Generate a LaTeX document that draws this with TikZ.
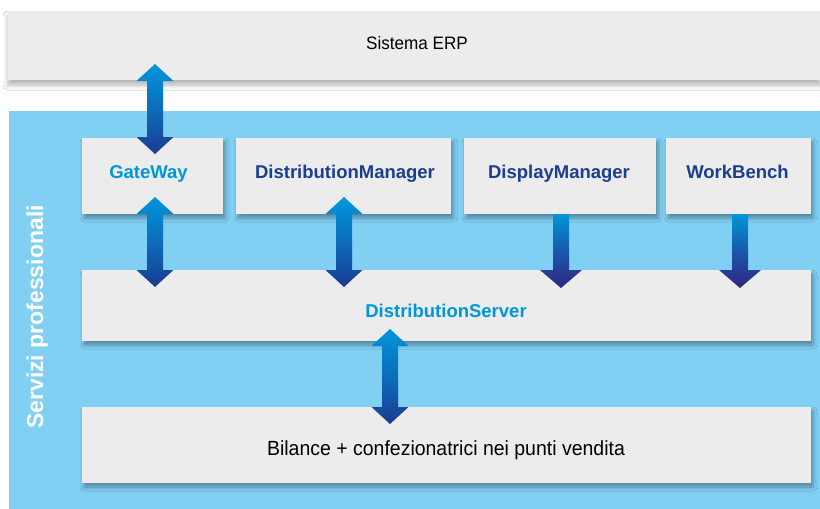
\documentclass[tikz,border=0pt]{standalone}
\usepackage{fontspec}
\setmainfont{Liberation Sans}
\newfontfamily\regfont[FakeStretch=0.95]{Liberation Sans}
\usetikzlibrary{calc,shadows.blur}
\definecolor{bgblue}{RGB}{130,207,244}
\definecolor{boxgray}{RGB}{236,236,236}
\definecolor{lblue}{RGB}{0,150,219}
\definecolor{dblue}{RGB}{27,62,143}
\definecolor{arrdark}{RGB}{27,58,145}
\definecolor{arrpurple}{RGB}{46,38,130}
\tikzset{
  box/.style={fill=boxgray, draw=none, inner sep=0pt, outer sep=0pt,
    blur shadow={shadow xshift=2pt, shadow yshift=-4pt, shadow blur radius=4pt, shadow opacity=35}},
  topbox/.style={fill=boxgray, draw=none, inner sep=0pt, outer sep=0pt,
    blur shadow={shadow xshift=0pt, shadow yshift=-5pt, shadow blur radius=5pt, shadow opacity=30}},
  lbl/.style={anchor=base, inner sep=0pt, font=\bfseries\fontsize{18.5}{20}\selectfont},
  plain/.style={anchor=base, inner sep=0pt, text=black},
  arrshade/.style={top color=lblue, bottom color=arrdark, middle color=lblue!55!arrdark},
  downshade/.style={top color=lblue, bottom color=arrpurple, middle color=lblue!45!arrpurple},
}
\newcommand\dblarrow[2]{\path[arrshade] let \p1=(#1), \p2=(#2) in
  (\x1,\y1) -- ++(18.5pt,-17pt) -- ++(-10.5pt,0pt) -- (\x1+8pt,\y2+17pt) -- ++(10.5pt,0pt)
  -- (\x1,\y2) -- ++(-18.5pt,17pt) -- ++(10.5pt,0pt) -- (\x1-8pt,\y1-17pt) -- ++(-10.5pt,0pt) -- cycle;}
\newcommand\myDownArrow[2]{\path[downshade] let \p1=(#1), \p2=(#2) in
  (\x1-8pt,\y1) -- (\x1+8pt,\y1) -- (\x1+8pt,\y2+18pt) -- ++(13pt,0pt)
  -- (\x1,\y2) -- ++(-21pt,18pt) -- ++(13pt,0pt) -- cycle;}
\begin{document}
\begin{tikzpicture}[x=1pt,y=-1pt]
\fill[white] (0,0) rectangle (820,509);
\useasboundingbox (0,0) rectangle (820,509);
% top ERP box
\node[topbox, minimum width=812pt, minimum height=69pt] (erp) at (414,45.5) {};
\node[plain, font=\regfont\fontsize{18}{20}\selectfont] (erpt) at (417,49) {Sistema ERP};
% blue panel
\fill[bgblue] (9,111) rectangle (820,509);
\node[anchor=base, rotate=90, inner sep=0pt, text=white, font=\bfseries\fontsize{23}{25}\selectfont] (serv) at (43,317) {Servizi professionali};
% boxes
\node[box, minimum width=141pt, minimum height=76pt] (gw) at (152.5,176) {};
\node[box, minimum width=215pt, minimum height=76pt] (dm) at (343.5,176) {};
\node[box, minimum width=192pt, minimum height=76pt] (dsp) at (560,176) {};
\node[box, minimum width=145pt, minimum height=76pt] (wb) at (738.5,176) {};
\node[box, minimum width=729pt, minimum height=71pt] (srv) at (446.5,305.5) {};
\node[box, minimum width=729pt, minimum height=76pt] (bil) at (446.5,445) {};
% labels
\node[lbl, text=lblue] (gwt) at (148.5,178) {GateWay};
\node[lbl, text=dblue] (dmt) at (345,178) {DistributionManager};
\node[lbl, text=dblue] (dspt) at (559,178) {DisplayManager};
\node[lbl, text=dblue] (wbt) at (737.5,178) {WorkBench};
\node[lbl, text=lblue] (srvt) at (446,317) {DistributionServer};
\node[plain, font=\regfont\fontsize{20.5}{22}\selectfont] (bilt) at (446,455) {Bilance + confezionatrici nei punti vendita};
% arrows
\dblarrow{$(erp.south -| gw.north)+(2.5pt,16pt)$}{$(gw.north)+(2.5pt,-16pt)$}
\dblarrow{$(gw.south)+(2.5pt,17pt)$}{$(gw.south |- srv.north)+(2.5pt,-17pt)$}
\dblarrow{$(dm.south)+(0.5pt,17pt)$}{$(dm.south |- srv.north)+(0.5pt,-17pt)$}
\myDownArrow{$(dsp.south)+(1pt,0pt)$}{$(dsp.south |- srv.north)+(1pt,-18pt)$}
\myDownArrow{$(wb.south)+(1.5pt,0pt)$}{$(wb.south |- srv.north)+(1.5pt,-18pt)$}
\dblarrow{$(srv.south)+(-56.5pt,12pt)$}{$(srv.south |- bil.north)+(-56.5pt,-17pt)$}
\end{tikzpicture}
\end{document}
